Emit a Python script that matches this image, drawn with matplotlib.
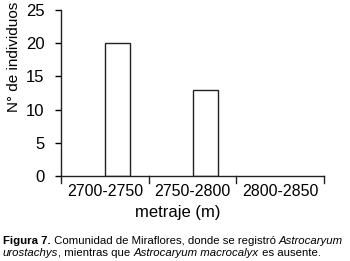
import matplotlib
matplotlib.use("Agg")
import matplotlib.pyplot as plt
import numpy as np

plt.rcParams['font.family'] = ['Liberation Sans', 'DejaVu Sans']

categories = ["2700-2750", "2750-2800", "2800-2850"]
macrocalyx = [0, 0, 0]
urostachys = [20, 13, 0]
yticks = [0, 5, 10, 15, 20, 25]

fig = plt.figure(figsize=(3.5, 2.61), dpi=100)
ax = fig.add_axes([61/350, 1-176/261, (324-61)/350, (176-10)/261])

x = np.arange(len(categories))
w = 0.29
for series, off in [(macrocalyx, -w/2), (urostachys, w/2)]:
    bars = ax.bar(x + off, series, w, facecolor='white', edgecolor='#222222', linewidth=1.0)
    for b, v in zip(bars, series):
        if v == 0:
            b.set_linewidth(0)

ax.set_xlim(-0.5, 2.5)
ax.set_ylim(0, 25)
ax.set_yticks(yticks)
ax.set_yticklabels([str(v) for v in yticks], fontsize=12)
ax.set_xticks(x)
ax.set_xticklabels(categories, fontsize=11.5)
ax.tick_params(axis='x', length=0, pad=6)
ax.tick_params(axis='y', length=4, width=1, direction='out', pad=8)
for b in [-0.5, 0.5, 1.5, 2.5]:
    ax.plot([b, b], [0, -0.04], transform=ax.get_xaxis_transform(), color='#222222',
            lw=1, clip_on=False)
for s in ['top', 'right']:
    ax.spines[s].set_visible(False)
for s in ['left', 'bottom']:
    ax.spines[s].set_color('#222222')
    ax.spines[s].set_linewidth(1)
ax.set_zorder(1)

fig.text(178/350, 1-213/261, "metraje (m)", ha='center', va='center', fontsize=12)
fig.text(14/350, 1-57/261, "N° de individuos", rotation=90, ha='center', va='center', fontsize=11)

fs = 8.2
t1 = fig.text(3/350, 1-244/261, "Figura 7.", fontweight='bold', fontsize=fs, va='baseline')
a1 = fig.add_artist(plt.Annotation(" Comunidad de Miraflores, donde se registró ", xy=(1, 0),
                                   xycoords=t1, va='bottom', fontsize=fs))
a2 = fig.add_artist(plt.Annotation("Astrocaryum", xy=(1, 0), xycoords=a1, va='bottom',
                                   fontsize=fs, fontstyle='italic'))
b1 = fig.text(3/350, 1-256/261, "urostachys", fontstyle='italic', fontsize=fs, va='baseline')
b2 = fig.add_artist(plt.Annotation(", mientras que ", xy=(1, 0), xycoords=b1, va='bottom', fontsize=fs))
b3 = fig.add_artist(plt.Annotation("Astrocaryum macrocalyx", xy=(1, 0), xycoords=b2, va='bottom',
                                   fontsize=fs, fontstyle='italic'))
b4 = fig.add_artist(plt.Annotation(" es ausente.", xy=(1, 0), xycoords=b3, va='bottom', fontsize=fs))

fig.savefig("out.png", dpi=100)
